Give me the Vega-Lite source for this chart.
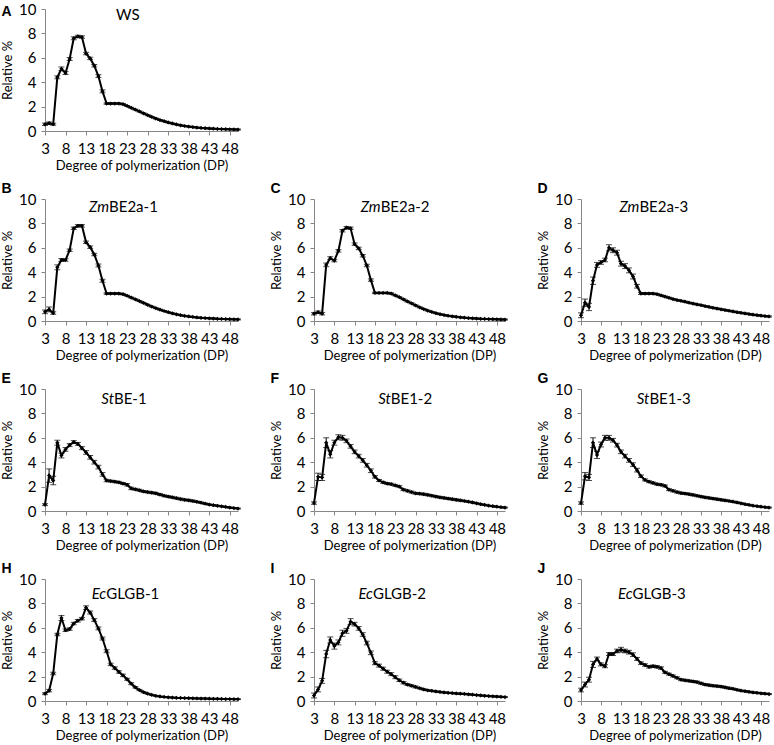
{
  "$schema": "https://vega.github.io/schema/vega-lite/v6.json",
  "background": "white",
  "padding": {"left": 1, "top": 2, "right": 0, "bottom": 0},
  "spacing": 10,
  "datasets": {
    "lab": [
      {"p":"A","x":20.3,"y":9.5,"a":"","b":"WS"},
      {"p":"B","x":18.6,"y":9.35,"a":"Zm","b":"BE2a-1"},
      {"p":"C","x":19.4,"y":9.35,"a":"Zm","b":"BE2a-2"},
      {"p":"D","x":17.6,"y":9.35,"a":"Zm","b":"BE2a-3"},
      {"p":"E","x":19.8,"y":9.2,"a":"St","b":"BE-1"},
      {"p":"F","x":21.9,"y":9.2,"a":"St","b":"BE1-2"},
      {"p":"G","x":20.1,"y":9.2,"a":"St","b":"BE1-3"},
      {"p":"H","x":17.9,"y":8.77,"a":"Ec","b":"GLGB-1"},
      {"p":"I","x":17.5,"y":8.77,"a":"Ec","b":"GLGB-2"},
      {"p":"J","x":15.9,"y":8.77,"a":"Ec","b":"GLGB-3"}
    ],
    "pts": [
      {"p":"A","x":3,"y":0.55,"e":0.1},{"p":"A","x":4,"y":0.64,"e":0.1},{"p":"A","x":5,"y":0.56,"e":0.08},{"p":"A","x":6,"y":4.4,"e":0.12},{"p":"A","x":7,"y":5.1,"e":0.15},{"p":"A","x":8,"y":4.75,"e":0.12},{"p":"A","x":9,"y":5.9,"e":0.12},{"p":"A","x":10,"y":7.6,"e":0.12},{"p":"A","x":11,"y":7.75,"e":0.1},{"p":"A","x":12,"y":7.7,"e":0.1},{"p":"A","x":13,"y":6.35,"e":0.1},{"p":"A","x":14,"y":5.95,"e":0.1},{"p":"A","x":15,"y":5.35,"e":0.1},{"p":"A","x":16,"y":4.5,"e":0.12},{"p":"A","x":17,"y":3.25,"e":0.12},{"p":"A","x":18,"y":2.25,"e":0.06},{"p":"A","x":19,"y":2.25,"e":0.06},{"p":"A","x":20,"y":2.25,"e":0.06},{"p":"A","x":21,"y":2.25,"e":0.06},{"p":"A","x":22,"y":2.2,"e":0.06},{"p":"A","x":23,"y":2.05,"e":0.04},{"p":"A","x":24,"y":1.9,"e":0.04},{"p":"A","x":25,"y":1.75,"e":0.04},{"p":"A","x":26,"y":1.6,"e":0.04},{"p":"A","x":27,"y":1.45,"e":0.04},{"p":"A","x":28,"y":1.3,"e":0.04},{"p":"A","x":29,"y":1.15,"e":0.04},{"p":"A","x":30,"y":1.02,"e":0.04},{"p":"A","x":31,"y":0.9,"e":0.04},{"p":"A","x":32,"y":0.8,"e":0.04},{"p":"A","x":33,"y":0.7,"e":0.04},{"p":"A","x":34,"y":0.62,"e":0.04},{"p":"A","x":35,"y":0.54,"e":0.04},{"p":"A","x":36,"y":0.47,"e":0.04},{"p":"A","x":37,"y":0.41,"e":0.04},{"p":"A","x":38,"y":0.36,"e":0.04},{"p":"A","x":39,"y":0.32,"e":0.04},{"p":"A","x":40,"y":0.28,"e":0.04},{"p":"A","x":41,"y":0.25,"e":0.04},{"p":"A","x":42,"y":0.23,"e":0.04},{"p":"A","x":43,"y":0.21,"e":0.04},{"p":"A","x":44,"y":0.19,"e":0.04},{"p":"A","x":45,"y":0.17,"e":0.04},{"p":"A","x":46,"y":0.16,"e":0.04},{"p":"A","x":47,"y":0.15,"e":0.04},{"p":"A","x":48,"y":0.14,"e":0.04},{"p":"A","x":49,"y":0.13,"e":0.04},{"p":"A","x":50,"y":0.12,"e":0.04},
      {"p":"B","x":3,"y":0.75,"e":0.15},{"p":"B","x":4,"y":0.95,"e":0.2},{"p":"B","x":5,"y":0.65,"e":0.1},{"p":"B","x":6,"y":4.4,"e":0.2},{"p":"B","x":7,"y":5.0,"e":0.12},{"p":"B","x":8,"y":5.0,"e":0.1},{"p":"B","x":9,"y":5.8,"e":0.1},{"p":"B","x":10,"y":7.6,"e":0.1},{"p":"B","x":11,"y":7.8,"e":0.1},{"p":"B","x":12,"y":7.8,"e":0.1},{"p":"B","x":13,"y":6.45,"e":0.1},{"p":"B","x":14,"y":6.05,"e":0.1},{"p":"B","x":15,"y":5.45,"e":0.1},{"p":"B","x":16,"y":4.55,"e":0.12},{"p":"B","x":17,"y":3.3,"e":0.12},{"p":"B","x":18,"y":2.25,"e":0.06},{"p":"B","x":19,"y":2.25,"e":0.06},{"p":"B","x":20,"y":2.25,"e":0.06},{"p":"B","x":21,"y":2.25,"e":0.06},{"p":"B","x":22,"y":2.2,"e":0.06},{"p":"B","x":23,"y":2.07,"e":0.04},{"p":"B","x":24,"y":1.92,"e":0.04},{"p":"B","x":25,"y":1.78,"e":0.04},{"p":"B","x":26,"y":1.63,"e":0.04},{"p":"B","x":27,"y":1.48,"e":0.04},{"p":"B","x":28,"y":1.33,"e":0.04},{"p":"B","x":29,"y":1.18,"e":0.04},{"p":"B","x":30,"y":1.05,"e":0.04},{"p":"B","x":31,"y":0.93,"e":0.04},{"p":"B","x":32,"y":0.82,"e":0.04},{"p":"B","x":33,"y":0.72,"e":0.04},{"p":"B","x":34,"y":0.63,"e":0.04},{"p":"B","x":35,"y":0.55,"e":0.04},{"p":"B","x":36,"y":0.48,"e":0.04},{"p":"B","x":37,"y":0.42,"e":0.04},{"p":"B","x":38,"y":0.37,"e":0.04},{"p":"B","x":39,"y":0.33,"e":0.04},{"p":"B","x":40,"y":0.29,"e":0.04},{"p":"B","x":41,"y":0.26,"e":0.04},{"p":"B","x":42,"y":0.24,"e":0.04},{"p":"B","x":43,"y":0.22,"e":0.04},{"p":"B","x":44,"y":0.2,"e":0.04},{"p":"B","x":45,"y":0.18,"e":0.04},{"p":"B","x":46,"y":0.17,"e":0.04},{"p":"B","x":47,"y":0.16,"e":0.04},{"p":"B","x":48,"y":0.15,"e":0.04},{"p":"B","x":49,"y":0.14,"e":0.04},{"p":"B","x":50,"y":0.13,"e":0.04},
      {"p":"C","x":3,"y":0.6,"e":0.1},{"p":"C","x":4,"y":0.72,"e":0.1},{"p":"C","x":5,"y":0.6,"e":0.1},{"p":"C","x":6,"y":4.6,"e":0.15},{"p":"C","x":7,"y":5.15,"e":0.12},{"p":"C","x":8,"y":4.95,"e":0.1},{"p":"C","x":9,"y":5.75,"e":0.1},{"p":"C","x":10,"y":7.4,"e":0.1},{"p":"C","x":11,"y":7.65,"e":0.1},{"p":"C","x":12,"y":7.6,"e":0.1},{"p":"C","x":13,"y":6.3,"e":0.1},{"p":"C","x":14,"y":5.95,"e":0.1},{"p":"C","x":15,"y":5.35,"e":0.1},{"p":"C","x":16,"y":4.55,"e":0.1},{"p":"C","x":17,"y":3.35,"e":0.1},{"p":"C","x":18,"y":2.3,"e":0.06},{"p":"C","x":19,"y":2.3,"e":0.06},{"p":"C","x":20,"y":2.3,"e":0.06},{"p":"C","x":21,"y":2.3,"e":0.06},{"p":"C","x":22,"y":2.25,"e":0.06},{"p":"C","x":23,"y":2.1,"e":0.04},{"p":"C","x":24,"y":1.95,"e":0.04},{"p":"C","x":25,"y":1.78,"e":0.04},{"p":"C","x":26,"y":1.6,"e":0.04},{"p":"C","x":27,"y":1.45,"e":0.04},{"p":"C","x":28,"y":1.28,"e":0.04},{"p":"C","x":29,"y":1.12,"e":0.04},{"p":"C","x":30,"y":0.98,"e":0.04},{"p":"C","x":31,"y":0.85,"e":0.04},{"p":"C","x":32,"y":0.74,"e":0.04},{"p":"C","x":33,"y":0.64,"e":0.04},{"p":"C","x":34,"y":0.56,"e":0.04},{"p":"C","x":35,"y":0.49,"e":0.04},{"p":"C","x":36,"y":0.43,"e":0.04},{"p":"C","x":37,"y":0.38,"e":0.04},{"p":"C","x":38,"y":0.34,"e":0.04},{"p":"C","x":39,"y":0.3,"e":0.04},{"p":"C","x":40,"y":0.27,"e":0.04},{"p":"C","x":41,"y":0.24,"e":0.04},{"p":"C","x":42,"y":0.22,"e":0.04},{"p":"C","x":43,"y":0.2,"e":0.04},{"p":"C","x":44,"y":0.18,"e":0.04},{"p":"C","x":45,"y":0.17,"e":0.04},{"p":"C","x":46,"y":0.16,"e":0.04},{"p":"C","x":47,"y":0.15,"e":0.04},{"p":"C","x":48,"y":0.14,"e":0.04},{"p":"C","x":49,"y":0.13,"e":0.04},{"p":"C","x":50,"y":0.12,"e":0.04},
      {"p":"D","x":3,"y":0.47,"e":0.2},{"p":"D","x":4,"y":1.5,"e":0.3},{"p":"D","x":5,"y":1.15,"e":0.3},{"p":"D","x":6,"y":3.3,"e":0.3},{"p":"D","x":7,"y":4.6,"e":0.2},{"p":"D","x":8,"y":4.8,"e":0.15},{"p":"D","x":9,"y":5.0,"e":0.15},{"p":"D","x":10,"y":6.0,"e":0.25},{"p":"D","x":11,"y":5.8,"e":0.2},{"p":"D","x":12,"y":5.6,"e":0.2},{"p":"D","x":13,"y":4.7,"e":0.2},{"p":"D","x":14,"y":4.5,"e":0.2},{"p":"D","x":15,"y":4.15,"e":0.2},{"p":"D","x":16,"y":3.65,"e":0.2},{"p":"D","x":17,"y":2.85,"e":0.15},{"p":"D","x":18,"y":2.25,"e":0.08},{"p":"D","x":19,"y":2.25,"e":0.06},{"p":"D","x":20,"y":2.25,"e":0.06},{"p":"D","x":21,"y":2.25,"e":0.06},{"p":"D","x":22,"y":2.2,"e":0.06},{"p":"D","x":23,"y":2.1,"e":0.05},{"p":"D","x":24,"y":2.0,"e":0.05},{"p":"D","x":25,"y":1.9,"e":0.05},{"p":"D","x":26,"y":1.8,"e":0.05},{"p":"D","x":27,"y":1.72,"e":0.05},{"p":"D","x":28,"y":1.65,"e":0.05},{"p":"D","x":29,"y":1.58,"e":0.05},{"p":"D","x":30,"y":1.5,"e":0.05},{"p":"D","x":31,"y":1.43,"e":0.05},{"p":"D","x":32,"y":1.36,"e":0.05},{"p":"D","x":33,"y":1.3,"e":0.05},{"p":"D","x":34,"y":1.22,"e":0.05},{"p":"D","x":35,"y":1.15,"e":0.05},{"p":"D","x":36,"y":1.08,"e":0.05},{"p":"D","x":37,"y":1.02,"e":0.05},{"p":"D","x":38,"y":0.96,"e":0.05},{"p":"D","x":39,"y":0.9,"e":0.05},{"p":"D","x":40,"y":0.84,"e":0.05},{"p":"D","x":41,"y":0.78,"e":0.05},{"p":"D","x":42,"y":0.72,"e":0.05},{"p":"D","x":43,"y":0.67,"e":0.05},{"p":"D","x":44,"y":0.62,"e":0.05},{"p":"D","x":45,"y":0.57,"e":0.05},{"p":"D","x":46,"y":0.52,"e":0.05},{"p":"D","x":47,"y":0.48,"e":0.05},{"p":"D","x":48,"y":0.44,"e":0.05},{"p":"D","x":49,"y":0.4,"e":0.05},{"p":"D","x":50,"y":0.37,"e":0.05},
      {"p":"E","x":3,"y":0.52,"e":0.08},{"p":"E","x":4,"y":2.9,"e":0.55},{"p":"E","x":5,"y":2.5,"e":0.35},{"p":"E","x":6,"y":5.6,"e":0.2},{"p":"E","x":7,"y":4.55,"e":0.2},{"p":"E","x":8,"y":5.05,"e":0.15},{"p":"E","x":9,"y":5.4,"e":0.12},{"p":"E","x":10,"y":5.65,"e":0.12},{"p":"E","x":11,"y":5.5,"e":0.12},{"p":"E","x":12,"y":5.15,"e":0.12},{"p":"E","x":13,"y":4.8,"e":0.15},{"p":"E","x":14,"y":4.4,"e":0.15},{"p":"E","x":15,"y":4.0,"e":0.15},{"p":"E","x":16,"y":3.6,"e":0.15},{"p":"E","x":17,"y":3.0,"e":0.15},{"p":"E","x":18,"y":2.5,"e":0.1},{"p":"E","x":19,"y":2.45,"e":0.08},{"p":"E","x":20,"y":2.4,"e":0.08},{"p":"E","x":21,"y":2.35,"e":0.08},{"p":"E","x":22,"y":2.25,"e":0.08},{"p":"E","x":23,"y":2.15,"e":0.1},{"p":"E","x":24,"y":1.85,"e":0.1},{"p":"E","x":25,"y":1.78,"e":0.08},{"p":"E","x":26,"y":1.7,"e":0.08},{"p":"E","x":27,"y":1.6,"e":0.08},{"p":"E","x":28,"y":1.55,"e":0.08},{"p":"E","x":29,"y":1.5,"e":0.08},{"p":"E","x":30,"y":1.45,"e":0.08},{"p":"E","x":31,"y":1.35,"e":0.08},{"p":"E","x":32,"y":1.25,"e":0.08},{"p":"E","x":33,"y":1.18,"e":0.08},{"p":"E","x":34,"y":1.12,"e":0.08},{"p":"E","x":35,"y":1.05,"e":0.08},{"p":"E","x":36,"y":0.98,"e":0.08},{"p":"E","x":37,"y":0.92,"e":0.08},{"p":"E","x":38,"y":0.88,"e":0.08},{"p":"E","x":39,"y":0.82,"e":0.08},{"p":"E","x":40,"y":0.75,"e":0.06},{"p":"E","x":41,"y":0.68,"e":0.06},{"p":"E","x":42,"y":0.6,"e":0.06},{"p":"E","x":43,"y":0.53,"e":0.05},{"p":"E","x":44,"y":0.48,"e":0.05},{"p":"E","x":45,"y":0.43,"e":0.04},{"p":"E","x":46,"y":0.38,"e":0.04},{"p":"E","x":47,"y":0.33,"e":0.04},{"p":"E","x":48,"y":0.28,"e":0.04},{"p":"E","x":49,"y":0.24,"e":0.04},{"p":"E","x":50,"y":0.2,"e":0.04},
      {"p":"F","x":3,"y":0.65,"e":0.1},{"p":"F","x":4,"y":2.8,"e":0.3},{"p":"F","x":5,"y":2.75,"e":0.25},{"p":"F","x":6,"y":5.6,"e":0.4},{"p":"F","x":7,"y":4.65,"e":0.3},{"p":"F","x":8,"y":5.6,"e":0.2},{"p":"F","x":9,"y":6.05,"e":0.2},{"p":"F","x":10,"y":6.0,"e":0.2},{"p":"F","x":11,"y":5.75,"e":0.15},{"p":"F","x":12,"y":5.3,"e":0.15},{"p":"F","x":13,"y":4.85,"e":0.15},{"p":"F","x":14,"y":4.5,"e":0.15},{"p":"F","x":15,"y":4.15,"e":0.15},{"p":"F","x":16,"y":3.75,"e":0.15},{"p":"F","x":17,"y":3.3,"e":0.15},{"p":"F","x":18,"y":2.8,"e":0.1},{"p":"F","x":19,"y":2.5,"e":0.08},{"p":"F","x":20,"y":2.35,"e":0.08},{"p":"F","x":21,"y":2.25,"e":0.08},{"p":"F","x":22,"y":2.2,"e":0.08},{"p":"F","x":23,"y":2.1,"e":0.08},{"p":"F","x":24,"y":2.0,"e":0.08},{"p":"F","x":25,"y":1.75,"e":0.08},{"p":"F","x":26,"y":1.65,"e":0.08},{"p":"F","x":27,"y":1.55,"e":0.08},{"p":"F","x":28,"y":1.45,"e":0.08},{"p":"F","x":29,"y":1.42,"e":0.08},{"p":"F","x":30,"y":1.38,"e":0.08},{"p":"F","x":31,"y":1.32,"e":0.08},{"p":"F","x":32,"y":1.25,"e":0.08},{"p":"F","x":33,"y":1.18,"e":0.08},{"p":"F","x":34,"y":1.12,"e":0.08},{"p":"F","x":35,"y":1.07,"e":0.08},{"p":"F","x":36,"y":1.02,"e":0.08},{"p":"F","x":37,"y":0.97,"e":0.08},{"p":"F","x":38,"y":0.92,"e":0.08},{"p":"F","x":39,"y":0.87,"e":0.08},{"p":"F","x":40,"y":0.82,"e":0.06},{"p":"F","x":41,"y":0.76,"e":0.06},{"p":"F","x":42,"y":0.7,"e":0.06},{"p":"F","x":43,"y":0.63,"e":0.05},{"p":"F","x":44,"y":0.56,"e":0.05},{"p":"F","x":45,"y":0.5,"e":0.05},{"p":"F","x":46,"y":0.44,"e":0.04},{"p":"F","x":47,"y":0.39,"e":0.04},{"p":"F","x":48,"y":0.35,"e":0.04},{"p":"F","x":49,"y":0.31,"e":0.04},{"p":"F","x":50,"y":0.28,"e":0.04},
      {"p":"G","x":3,"y":0.65,"e":0.1},{"p":"G","x":4,"y":2.85,"e":0.3},{"p":"G","x":5,"y":2.75,"e":0.25},{"p":"G","x":6,"y":5.6,"e":0.4},{"p":"G","x":7,"y":4.6,"e":0.3},{"p":"G","x":8,"y":5.45,"e":0.2},{"p":"G","x":9,"y":6.0,"e":0.2},{"p":"G","x":10,"y":6.0,"e":0.2},{"p":"G","x":11,"y":5.8,"e":0.15},{"p":"G","x":12,"y":5.4,"e":0.15},{"p":"G","x":13,"y":4.85,"e":0.15},{"p":"G","x":14,"y":4.5,"e":0.15},{"p":"G","x":15,"y":4.15,"e":0.15},{"p":"G","x":16,"y":3.8,"e":0.15},{"p":"G","x":17,"y":3.35,"e":0.15},{"p":"G","x":18,"y":2.85,"e":0.1},{"p":"G","x":19,"y":2.55,"e":0.08},{"p":"G","x":20,"y":2.4,"e":0.08},{"p":"G","x":21,"y":2.3,"e":0.08},{"p":"G","x":22,"y":2.2,"e":0.08},{"p":"G","x":23,"y":2.15,"e":0.08},{"p":"G","x":24,"y":2.05,"e":0.08},{"p":"G","x":25,"y":1.75,"e":0.08},{"p":"G","x":26,"y":1.65,"e":0.08},{"p":"G","x":27,"y":1.55,"e":0.08},{"p":"G","x":28,"y":1.47,"e":0.08},{"p":"G","x":29,"y":1.43,"e":0.08},{"p":"G","x":30,"y":1.38,"e":0.08},{"p":"G","x":31,"y":1.32,"e":0.08},{"p":"G","x":32,"y":1.25,"e":0.08},{"p":"G","x":33,"y":1.18,"e":0.08},{"p":"G","x":34,"y":1.12,"e":0.08},{"p":"G","x":35,"y":1.07,"e":0.08},{"p":"G","x":36,"y":1.02,"e":0.08},{"p":"G","x":37,"y":0.97,"e":0.08},{"p":"G","x":38,"y":0.92,"e":0.08},{"p":"G","x":39,"y":0.87,"e":0.08},{"p":"G","x":40,"y":0.82,"e":0.06},{"p":"G","x":41,"y":0.76,"e":0.06},{"p":"G","x":42,"y":0.7,"e":0.06},{"p":"G","x":43,"y":0.63,"e":0.05},{"p":"G","x":44,"y":0.56,"e":0.05},{"p":"G","x":45,"y":0.5,"e":0.05},{"p":"G","x":46,"y":0.44,"e":0.04},{"p":"G","x":47,"y":0.39,"e":0.04},{"p":"G","x":48,"y":0.35,"e":0.04},{"p":"G","x":49,"y":0.31,"e":0.04},{"p":"G","x":50,"y":0.28,"e":0.04},
      {"p":"H","x":3,"y":0.6,"e":0.08},{"p":"H","x":4,"y":0.85,"e":0.1},{"p":"H","x":5,"y":2.25,"e":0.1},{"p":"H","x":6,"y":5.45,"e":0.1},{"p":"H","x":7,"y":6.8,"e":0.2},{"p":"H","x":8,"y":5.8,"e":0.1},{"p":"H","x":9,"y":5.9,"e":0.1},{"p":"H","x":10,"y":6.35,"e":0.1},{"p":"H","x":11,"y":6.58,"e":0.1},{"p":"H","x":12,"y":6.75,"e":0.1},{"p":"H","x":13,"y":7.65,"e":0.15},{"p":"H","x":14,"y":7.25,"e":0.12},{"p":"H","x":15,"y":6.63,"e":0.12},{"p":"H","x":16,"y":5.95,"e":0.12},{"p":"H","x":17,"y":5.12,"e":0.12},{"p":"H","x":18,"y":4.08,"e":0.12},{"p":"H","x":19,"y":3.0,"e":0.1},{"p":"H","x":20,"y":2.7,"e":0.1},{"p":"H","x":21,"y":2.38,"e":0.1},{"p":"H","x":22,"y":2.1,"e":0.1},{"p":"H","x":23,"y":1.78,"e":0.08},{"p":"H","x":24,"y":1.42,"e":0.08},{"p":"H","x":25,"y":1.12,"e":0.06},{"p":"H","x":26,"y":0.9,"e":0.05},{"p":"H","x":27,"y":0.72,"e":0.05},{"p":"H","x":28,"y":0.6,"e":0.04},{"p":"H","x":29,"y":0.5,"e":0.04},{"p":"H","x":30,"y":0.42,"e":0.04},{"p":"H","x":31,"y":0.37,"e":0.03},{"p":"H","x":32,"y":0.33,"e":0.03},{"p":"H","x":33,"y":0.3,"e":0.03},{"p":"H","x":34,"y":0.28,"e":0.03},{"p":"H","x":35,"y":0.26,"e":0.03},{"p":"H","x":36,"y":0.25,"e":0.03},{"p":"H","x":37,"y":0.24,"e":0.03},{"p":"H","x":38,"y":0.23,"e":0.03},{"p":"H","x":39,"y":0.22,"e":0.03},{"p":"H","x":40,"y":0.21,"e":0.03},{"p":"H","x":41,"y":0.2,"e":0.03},{"p":"H","x":42,"y":0.2,"e":0.03},{"p":"H","x":43,"y":0.19,"e":0.03},{"p":"H","x":44,"y":0.18,"e":0.03},{"p":"H","x":45,"y":0.18,"e":0.03},{"p":"H","x":46,"y":0.17,"e":0.03},{"p":"H","x":47,"y":0.16,"e":0.03},{"p":"H","x":48,"y":0.16,"e":0.03},{"p":"H","x":49,"y":0.15,"e":0.03},{"p":"H","x":50,"y":0.15,"e":0.03},
      {"p":"I","x":3,"y":0.45,"e":0.2},{"p":"I","x":4,"y":0.95,"e":0.2},{"p":"I","x":5,"y":1.65,"e":0.2},{"p":"I","x":6,"y":3.85,"e":0.3},{"p":"I","x":7,"y":5.0,"e":0.25},{"p":"I","x":8,"y":4.5,"e":0.25},{"p":"I","x":9,"y":4.8,"e":0.2},{"p":"I","x":10,"y":5.55,"e":0.25},{"p":"I","x":11,"y":5.75,"e":0.2},{"p":"I","x":12,"y":6.5,"e":0.25},{"p":"I","x":13,"y":6.3,"e":0.15},{"p":"I","x":14,"y":5.95,"e":0.15},{"p":"I","x":15,"y":5.45,"e":0.15},{"p":"I","x":16,"y":4.75,"e":0.15},{"p":"I","x":17,"y":3.95,"e":0.15},{"p":"I","x":18,"y":3.1,"e":0.12},{"p":"I","x":19,"y":2.9,"e":0.12},{"p":"I","x":20,"y":2.65,"e":0.12},{"p":"I","x":21,"y":2.4,"e":0.12},{"p":"I","x":22,"y":2.2,"e":0.12},{"p":"I","x":23,"y":1.95,"e":0.12},{"p":"I","x":24,"y":1.7,"e":0.1},{"p":"I","x":25,"y":1.5,"e":0.1},{"p":"I","x":26,"y":1.35,"e":0.08},{"p":"I","x":27,"y":1.25,"e":0.08},{"p":"I","x":28,"y":1.15,"e":0.08},{"p":"I","x":29,"y":1.05,"e":0.06},{"p":"I","x":30,"y":0.95,"e":0.06},{"p":"I","x":31,"y":0.88,"e":0.05},{"p":"I","x":32,"y":0.83,"e":0.05},{"p":"I","x":33,"y":0.78,"e":0.05},{"p":"I","x":34,"y":0.74,"e":0.05},{"p":"I","x":35,"y":0.7,"e":0.05},{"p":"I","x":36,"y":0.67,"e":0.05},{"p":"I","x":37,"y":0.65,"e":0.05},{"p":"I","x":38,"y":0.62,"e":0.05},{"p":"I","x":39,"y":0.6,"e":0.05},{"p":"I","x":40,"y":0.58,"e":0.05},{"p":"I","x":41,"y":0.55,"e":0.05},{"p":"I","x":42,"y":0.52,"e":0.04},{"p":"I","x":43,"y":0.49,"e":0.04},{"p":"I","x":44,"y":0.46,"e":0.04},{"p":"I","x":45,"y":0.43,"e":0.04},{"p":"I","x":46,"y":0.4,"e":0.04},{"p":"I","x":47,"y":0.38,"e":0.04},{"p":"I","x":48,"y":0.36,"e":0.04},{"p":"I","x":49,"y":0.34,"e":0.04},{"p":"I","x":50,"y":0.32,"e":0.04},
      {"p":"J","x":3,"y":0.9,"e":0.15},{"p":"J","x":4,"y":1.35,"e":0.2},{"p":"J","x":5,"y":1.75,"e":0.2},{"p":"J","x":6,"y":3.0,"e":0.25},{"p":"J","x":7,"y":3.45,"e":0.15},{"p":"J","x":8,"y":3.0,"e":0.12},{"p":"J","x":9,"y":2.85,"e":0.12},{"p":"J","x":10,"y":3.85,"e":0.12},{"p":"J","x":11,"y":3.85,"e":0.12},{"p":"J","x":12,"y":4.1,"e":0.15},{"p":"J","x":13,"y":4.2,"e":0.2},{"p":"J","x":14,"y":4.1,"e":0.15},{"p":"J","x":15,"y":4.0,"e":0.15},{"p":"J","x":16,"y":3.8,"e":0.15},{"p":"J","x":17,"y":3.45,"e":0.12},{"p":"J","x":18,"y":3.1,"e":0.1},{"p":"J","x":19,"y":2.95,"e":0.1},{"p":"J","x":20,"y":2.8,"e":0.1},{"p":"J","x":21,"y":2.85,"e":0.1},{"p":"J","x":22,"y":2.8,"e":0.1},{"p":"J","x":23,"y":2.7,"e":0.1},{"p":"J","x":24,"y":2.35,"e":0.08},{"p":"J","x":25,"y":2.2,"e":0.08},{"p":"J","x":26,"y":2.05,"e":0.08},{"p":"J","x":27,"y":1.9,"e":0.08},{"p":"J","x":28,"y":1.75,"e":0.08},{"p":"J","x":29,"y":1.7,"e":0.08},{"p":"J","x":30,"y":1.65,"e":0.08},{"p":"J","x":31,"y":1.6,"e":0.08},{"p":"J","x":32,"y":1.55,"e":0.08},{"p":"J","x":33,"y":1.45,"e":0.08},{"p":"J","x":34,"y":1.35,"e":0.08},{"p":"J","x":35,"y":1.3,"e":0.08},{"p":"J","x":36,"y":1.25,"e":0.08},{"p":"J","x":37,"y":1.22,"e":0.08},{"p":"J","x":38,"y":1.18,"e":0.08},{"p":"J","x":39,"y":1.12,"e":0.08},{"p":"J","x":40,"y":1.05,"e":0.08},{"p":"J","x":41,"y":1.0,"e":0.06},{"p":"J","x":42,"y":0.92,"e":0.06},{"p":"J","x":43,"y":0.85,"e":0.06},{"p":"J","x":44,"y":0.8,"e":0.06},{"p":"J","x":45,"y":0.75,"e":0.06},{"p":"J","x":46,"y":0.7,"e":0.05},{"p":"J","x":47,"y":0.67,"e":0.05},{"p":"J","x":48,"y":0.63,"e":0.05},{"p":"J","x":49,"y":0.6,"e":0.05},{"p":"J","x":50,"y":0.57,"e":0.05}
    ]
  },
  "vconcat": [
    {
      "width": 193, "height": 122,
      "title": {"text": "A", "offset": -17},
      "data": {"name": "pts"}, "transform": [{"filter": "datum.p==='A'"}],
      "encoding": {
        "x": {"field": "x", "type": "quantitative", "scale": {"domain": [3, 50], "nice": false, "zero": false}, "axis": {"title": "Degree of polymerization (DP)", "values": [3, 8, 13, 18, 23, 28, 33, 38, 43, 48]}},
        "y": {"field": "y", "type": "quantitative", "scale": {"domain": [0, 10], "nice": false}, "axis": {"title": "Relative %", "values": [0, 2, 4, 6, 8, 10]}}
      },
      "layer": [
        {"mark": {"type": "errorbar", "ticks": {"size": 6}, "color": "black", "thickness": 1}, "encoding": {"yError": {"field": "e"}}},
        {"mark": {"type": "line", "color": "black", "strokeWidth": 2}, "encoding": {}},
        {"mark": {"type": "point", "shape": "diamond", "filled": true, "color": "black", "size": 18, "opacity": 1}},
        {"data": {"name": "lab"}, "transform": [{"filter": "datum.p==='A'"}], "mark": {"type": "text", "align": "right", "fontStyle": "italic"}, "encoding": {"text": {"field": "a"}}},
        {"data": {"name": "lab"}, "transform": [{"filter": "datum.p==='A'"}], "mark": {"type": "text", "align": "left"}, "encoding": {"text": {"field": "b"}}}
      ]
    },
    {
      "spacing": 28,
      "hconcat": [
        {
          "width": 193, "height": 122,
          "title": {"text": "B", "offset": -4},
          "data": {"name": "pts"}, "transform": [{"filter": "datum.p==='B'"}],
          "encoding": {
            "x": {"field": "x", "type": "quantitative", "scale": {"domain": [3, 50], "nice": false, "zero": false}, "axis": {"title": "Degree of polymerization (DP)", "values": [3, 8, 13, 18, 23, 28, 33, 38, 43, 48]}},
            "y": {"field": "y", "type": "quantitative", "scale": {"domain": [0, 10], "nice": false}, "axis": {"title": "Relative %", "values": [0, 2, 4, 6, 8, 10]}}
          },
          "layer": [
            {"mark": {"type": "errorbar", "ticks": {"size": 6}, "color": "black", "thickness": 1}, "encoding": {"yError": {"field": "e"}}},
            {"mark": {"type": "line", "color": "black", "strokeWidth": 2}, "encoding": {}},
            {"mark": {"type": "point", "shape": "diamond", "filled": true, "color": "black", "size": 18, "opacity": 1}},
            {"data": {"name": "lab"}, "transform": [{"filter": "datum.p==='B'"}], "mark": {"type": "text", "align": "right", "fontStyle": "italic"}, "encoding": {"text": {"field": "a"}}},
            {"data": {"name": "lab"}, "transform": [{"filter": "datum.p==='B'"}], "mark": {"type": "text", "align": "left"}, "encoding": {"text": {"field": "b"}}}
          ]
        },
        {
          "width": 191, "height": 122,
          "title": {"text": "C", "offset": -4},
          "data": {"name": "pts"}, "transform": [{"filter": "datum.p==='C'"}],
          "encoding": {
            "x": {"field": "x", "type": "quantitative", "scale": {"domain": [3, 50], "nice": false, "zero": false}, "axis": {"title": "Degree of polymerization (DP)", "values": [3, 8, 13, 18, 23, 28, 33, 38, 43, 48]}},
            "y": {"field": "y", "type": "quantitative", "scale": {"domain": [0, 10], "nice": false}, "axis": {"title": "Relative %", "values": [0, 2, 4, 6, 8, 10]}}
          },
          "layer": [
            {"mark": {"type": "errorbar", "ticks": {"size": 6}, "color": "black", "thickness": 1}, "encoding": {"yError": {"field": "e"}}},
            {"mark": {"type": "line", "color": "black", "strokeWidth": 2}, "encoding": {}},
            {"mark": {"type": "point", "shape": "diamond", "filled": true, "color": "black", "size": 18, "opacity": 1}},
            {"data": {"name": "lab"}, "transform": [{"filter": "datum.p==='C'"}], "mark": {"type": "text", "align": "right", "fontStyle": "italic"}, "encoding": {"text": {"field": "a"}}},
            {"data": {"name": "lab"}, "transform": [{"filter": "datum.p==='C'"}], "mark": {"type": "text", "align": "left"}, "encoding": {"text": {"field": "b"}}}
          ]
        },
        {
          "width": 188, "height": 122,
          "title": {"text": "D", "offset": -4},
          "data": {"name": "pts"}, "transform": [{"filter": "datum.p==='D'"}],
          "encoding": {
            "x": {"field": "x", "type": "quantitative", "scale": {"domain": [3, 50], "nice": false, "zero": false}, "axis": {"title": "Degree of polymerization (DP)", "values": [3, 8, 13, 18, 23, 28, 33, 38, 43, 48]}},
            "y": {"field": "y", "type": "quantitative", "scale": {"domain": [0, 10], "nice": false}, "axis": {"title": "Relative %", "values": [0, 2, 4, 6, 8, 10]}}
          },
          "layer": [
            {"mark": {"type": "errorbar", "ticks": {"size": 6}, "color": "black", "thickness": 1}, "encoding": {"yError": {"field": "e"}}},
            {"mark": {"type": "line", "color": "black", "strokeWidth": 2}, "encoding": {}},
            {"mark": {"type": "point", "shape": "diamond", "filled": true, "color": "black", "size": 18, "opacity": 1}},
            {"data": {"name": "lab"}, "transform": [{"filter": "datum.p==='D'"}], "mark": {"type": "text", "align": "right", "fontStyle": "italic"}, "encoding": {"text": {"field": "a"}}},
            {"data": {"name": "lab"}, "transform": [{"filter": "datum.p==='D'"}], "mark": {"type": "text", "align": "left"}, "encoding": {"text": {"field": "b"}}}
          ]
        }
      ]
    },
    {
      "spacing": 28,
      "hconcat": [
        {
          "width": 193, "height": 122,
          "title": {"text": "E", "offset": -4},
          "data": {"name": "pts"}, "transform": [{"filter": "datum.p==='E'"}],
          "encoding": {
            "x": {"field": "x", "type": "quantitative", "scale": {"domain": [3, 50], "nice": false, "zero": false}, "axis": {"title": "Degree of polymerization (DP)", "values": [3, 8, 13, 18, 23, 28, 33, 38, 43, 48]}},
            "y": {"field": "y", "type": "quantitative", "scale": {"domain": [0, 10], "nice": false}, "axis": {"title": "Relative %", "values": [0, 2, 4, 6, 8, 10]}}
          },
          "layer": [
            {"mark": {"type": "errorbar", "ticks": {"size": 6}, "color": "black", "thickness": 1}, "encoding": {"yError": {"field": "e"}}},
            {"mark": {"type": "line", "color": "black", "strokeWidth": 2}, "encoding": {}},
            {"mark": {"type": "point", "shape": "diamond", "filled": true, "color": "black", "size": 18, "opacity": 1}},
            {"data": {"name": "lab"}, "transform": [{"filter": "datum.p==='E'"}], "mark": {"type": "text", "align": "right", "fontStyle": "italic"}, "encoding": {"text": {"field": "a"}}},
            {"data": {"name": "lab"}, "transform": [{"filter": "datum.p==='E'"}], "mark": {"type": "text", "align": "left"}, "encoding": {"text": {"field": "b"}}}
          ]
        },
        {
          "width": 191, "height": 122,
          "title": {"text": "F", "offset": -4},
          "data": {"name": "pts"}, "transform": [{"filter": "datum.p==='F'"}],
          "encoding": {
            "x": {"field": "x", "type": "quantitative", "scale": {"domain": [3, 50], "nice": false, "zero": false}, "axis": {"title": "Degree of polymerization (DP)", "values": [3, 8, 13, 18, 23, 28, 33, 38, 43, 48]}},
            "y": {"field": "y", "type": "quantitative", "scale": {"domain": [0, 10], "nice": false}, "axis": {"title": "Relative %", "values": [0, 2, 4, 6, 8, 10]}}
          },
          "layer": [
            {"mark": {"type": "errorbar", "ticks": {"size": 6}, "color": "black", "thickness": 1}, "encoding": {"yError": {"field": "e"}}},
            {"mark": {"type": "line", "color": "black", "strokeWidth": 2}, "encoding": {}},
            {"mark": {"type": "point", "shape": "diamond", "filled": true, "color": "black", "size": 18, "opacity": 1}},
            {"data": {"name": "lab"}, "transform": [{"filter": "datum.p==='F'"}], "mark": {"type": "text", "align": "right", "fontStyle": "italic"}, "encoding": {"text": {"field": "a"}}},
            {"data": {"name": "lab"}, "transform": [{"filter": "datum.p==='F'"}], "mark": {"type": "text", "align": "left"}, "encoding": {"text": {"field": "b"}}}
          ]
        },
        {
          "width": 188, "height": 122,
          "title": {"text": "G", "offset": -4},
          "data": {"name": "pts"}, "transform": [{"filter": "datum.p==='G'"}],
          "encoding": {
            "x": {"field": "x", "type": "quantitative", "scale": {"domain": [3, 50], "nice": false, "zero": false}, "axis": {"title": "Degree of polymerization (DP)", "values": [3, 8, 13, 18, 23, 28, 33, 38, 43, 48]}},
            "y": {"field": "y", "type": "quantitative", "scale": {"domain": [0, 10], "nice": false}, "axis": {"title": "Relative %", "values": [0, 2, 4, 6, 8, 10]}}
          },
          "layer": [
            {"mark": {"type": "errorbar", "ticks": {"size": 6}, "color": "black", "thickness": 1}, "encoding": {"yError": {"field": "e"}}},
            {"mark": {"type": "line", "color": "black", "strokeWidth": 2}, "encoding": {}},
            {"mark": {"type": "point", "shape": "diamond", "filled": true, "color": "black", "size": 18, "opacity": 1}},
            {"data": {"name": "lab"}, "transform": [{"filter": "datum.p==='G'"}], "mark": {"type": "text", "align": "right", "fontStyle": "italic"}, "encoding": {"text": {"field": "a"}}},
            {"data": {"name": "lab"}, "transform": [{"filter": "datum.p==='G'"}], "mark": {"type": "text", "align": "left"}, "encoding": {"text": {"field": "b"}}}
          ]
        }
      ]
    },
    {
      "spacing": 28,
      "hconcat": [
        {
          "width": 193, "height": 122,
          "title": {"text": "H", "offset": -4},
          "data": {"name": "pts"}, "transform": [{"filter": "datum.p==='H'"}],
          "encoding": {
            "x": {"field": "x", "type": "quantitative", "scale": {"domain": [3, 50], "nice": false, "zero": false}, "axis": {"title": "Degree of polymerization (DP)", "values": [3, 8, 13, 18, 23, 28, 33, 38, 43, 48]}},
            "y": {"field": "y", "type": "quantitative", "scale": {"domain": [0, 10], "nice": false}, "axis": {"title": "Relative %", "values": [0, 2, 4, 6, 8, 10]}}
          },
          "layer": [
            {"mark": {"type": "errorbar", "ticks": {"size": 6}, "color": "black", "thickness": 1}, "encoding": {"yError": {"field": "e"}}},
            {"mark": {"type": "line", "color": "black", "strokeWidth": 2}, "encoding": {}},
            {"mark": {"type": "point", "shape": "diamond", "filled": true, "color": "black", "size": 18, "opacity": 1}},
            {"data": {"name": "lab"}, "transform": [{"filter": "datum.p==='H'"}], "mark": {"type": "text", "align": "right", "fontStyle": "italic"}, "encoding": {"text": {"field": "a"}}},
            {"data": {"name": "lab"}, "transform": [{"filter": "datum.p==='H'"}], "mark": {"type": "text", "align": "left"}, "encoding": {"text": {"field": "b"}}}
          ]
        },
        {
          "width": 191, "height": 122,
          "title": {"text": "I", "offset": -4},
          "data": {"name": "pts"}, "transform": [{"filter": "datum.p==='I'"}],
          "encoding": {
            "x": {"field": "x", "type": "quantitative", "scale": {"domain": [3, 50], "nice": false, "zero": false}, "axis": {"title": "Degree of polymerization (DP)", "values": [3, 8, 13, 18, 23, 28, 33, 38, 43, 48]}},
            "y": {"field": "y", "type": "quantitative", "scale": {"domain": [0, 10], "nice": false}, "axis": {"title": "Relative %", "values": [0, 2, 4, 6, 8, 10]}}
          },
          "layer": [
            {"mark": {"type": "errorbar", "ticks": {"size": 6}, "color": "black", "thickness": 1}, "encoding": {"yError": {"field": "e"}}},
            {"mark": {"type": "line", "color": "black", "strokeWidth": 2}, "encoding": {}},
            {"mark": {"type": "point", "shape": "diamond", "filled": true, "color": "black", "size": 18, "opacity": 1}},
            {"data": {"name": "lab"}, "transform": [{"filter": "datum.p==='I'"}], "mark": {"type": "text", "align": "right", "fontStyle": "italic"}, "encoding": {"text": {"field": "a"}}},
            {"data": {"name": "lab"}, "transform": [{"filter": "datum.p==='I'"}], "mark": {"type": "text", "align": "left"}, "encoding": {"text": {"field": "b"}}}
          ]
        },
        {
          "width": 188, "height": 122,
          "title": {"text": "J", "offset": -4},
          "data": {"name": "pts"}, "transform": [{"filter": "datum.p==='J'"}],
          "encoding": {
            "x": {"field": "x", "type": "quantitative", "scale": {"domain": [3, 50], "nice": false, "zero": false}, "axis": {"title": "Degree of polymerization (DP)", "values": [3, 8, 13, 18, 23, 28, 33, 38, 43, 48]}},
            "y": {"field": "y", "type": "quantitative", "scale": {"domain": [0, 10], "nice": false}, "axis": {"title": "Relative %", "values": [0, 2, 4, 6, 8, 10]}}
          },
          "layer": [
            {"mark": {"type": "errorbar", "ticks": {"size": 6}, "color": "black", "thickness": 1}, "encoding": {"yError": {"field": "e"}}},
            {"mark": {"type": "line", "color": "black", "strokeWidth": 2}, "encoding": {}},
            {"mark": {"type": "point", "shape": "diamond", "filled": true, "color": "black", "size": 18, "opacity": 1}},
            {"data": {"name": "lab"}, "transform": [{"filter": "datum.p==='J'"}], "mark": {"type": "text", "align": "right", "fontStyle": "italic"}, "encoding": {"text": {"field": "a"}}},
            {"data": {"name": "lab"}, "transform": [{"filter": "datum.p==='J'"}], "mark": {"type": "text", "align": "left"}, "encoding": {"text": {"field": "b"}}}
          ]
        }
      ]
    }
  ],
  "config": {
    "view": {"stroke": null},
    "font": "Lato",
    "title": {"anchor": "start", "frame": "bounds", "font": "Liberation Sans", "fontSize": 14, "fontWeight": "bold", "color": "black"},
    "axis": {"grid": false, "domainColor": "#868686", "tickColor": "#868686", "labelColor": "black", "titleColor": "black", "labelFont": "Lato", "titleFont": "Lato", "labelFontSize": 15, "titleFontSize": 13, "titleFontWeight": "normal", "tickSize": 4},
    "axisX": {"labelFontSize": 15, "labelPadding": 6, "titleFontSize": 13, "titlePadding": 3, "labelFlush": false, "labelOverlap": false},
    "axisY": {"labelFontSize": 15, "labelPadding": 5, "titleFontSize": 13, "titlePadding": 4, "labelOverlap": false},
    "text": {"font": "Lato", "fontSize": 15, "baseline": "middle", "color": "black"}
  }
}
